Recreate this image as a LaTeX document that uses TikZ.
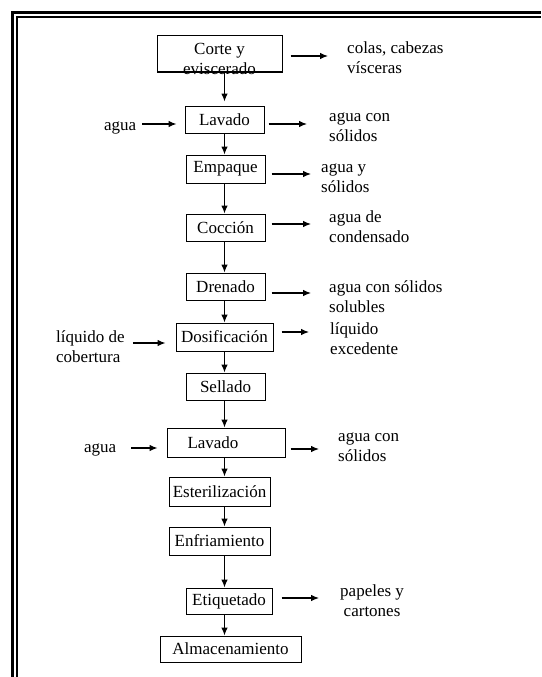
\documentclass[tikz,border=0pt]{standalone}
\usepackage{fontspec}
\setmainfont{Liberation Serif}
\usetikzlibrary{arrows.meta}
\newcommand{\diagfont}{\fontsize{17}{20}\selectfont}
\begin{document}
\begin{tikzpicture}[x=1pt,y=-1pt,
  box/.style={draw, line width=1pt, inner sep=0pt, font=\diagfont},
  side/.style={align=left, inner sep=0pt, font=\diagfont, anchor=west},
  arr/.style={line width=1.1pt, -{Latex[length=8pt,width=6.5pt]}},
  lbl/.style={font=\diagfont, inner sep=0pt, align=center},
]
\useasboundingbox (0,0) rectangle (541,677);
% frame
\draw[line width=3pt] (12.5,677) -- (12.5,12.5) -- (541,12.5);
\draw[line width=1.6pt] (17,677) -- (17,17) -- (541,17);
\coordinate (axis) at (224.5,0);
% boxes
\node[box, minimum width=125pt, minimum height=36pt,
  label={[lbl, yshift=-5pt]center:Corte y\\eviscerado}] (corte) at (219.5,54) {};
\node[box, minimum width=79pt, minimum height=27pt] (lav1) at (224.5,119.5) {Lavado};
\node[box, minimum width=79pt, minimum height=28pt] (emp) at (225.5,169) {Empaque};
\node[box, minimum width=79pt, minimum height=27pt] (coc) at (225.5,227.5) {Cocción};
\node[box, minimum width=79pt, minimum height=27pt] (dren) at (225.5,286.5) {Drenado};
\node[box, minimum width=97pt, minimum height=28pt] (dosif) at (224.5,337) {Dosificación};
\node[box, minimum width=79pt, minimum height=27pt] (sell) at (225.5,386.5) {Sellado};
\node[box, minimum width=118pt, minimum height=29pt,
  label={[lbl, xshift=-13pt]center:Lavado}] (lav2) at (226,442.5) {};
\node[box, minimum width=101pt, minimum height=29pt] (est) at (219.5,491.5) {Esterilización};
\node[box, minimum width=101pt, minimum height=28pt] (enf) at (219.5,541) {Enfriamiento};
\node[box, minimum width=86pt, minimum height=26pt] (eti) at (229,601) {Etiquetado};
\node[box, minimum width=141pt, minimum height=26pt] (alm) at (230.5,649) {Almacenamiento};
% side texts
\node[side] (o1) at (347,57.5) {colas, cabezas\\vísceras};
\node[side] (o2) at (329,127) {agua con\\sólidos};
\node[side] (o3) at (321,178) {agua y\\sólidos};
\node[side] (o4) at (329,227) {agua de\\condensado};
\node[side] (o5) at (329,297) {agua con sólidos\\solubles};
\node[side] (o6) at (330,339) {líquido\\excedente};
\node[side] (o7) at (338,447) {agua con\\sólidos};
\node[side, align=center] (o8) at (340,601) {papeles y\\cartones};
\node[side] (i1) at (104,128) {agua};
\node[side] (i2) at (56,347) {líquido de\\cobertura};
\node[side] (i3) at (84,450) {agua};
% vertical flow
\draw[arr] (corte.south -| axis) -- ([yshift=4pt]lav1.north -| axis);
\draw[arr] (lav1.south -| axis) -- (emp.north -| axis);
\draw[arr] (emp.south -| axis) -- (coc.north -| axis);
\draw[arr] (coc.south -| axis) -- (dren.north -| axis);
\draw[arr] (dren.south -| axis) -- (dosif.north -| axis);
\draw[arr] (dosif.south -| axis) -- (sell.north -| axis);
\draw[arr] (sell.south -| axis) -- (lav2.north -| axis);
\draw[arr] (lav2.south -| axis) -- (est.north -| axis);
\draw[arr] (est.south -| axis) -- (enf.north -| axis);
\draw[arr] (enf.south -| axis) -- (eti.north -| axis);
\draw[arr] (eti.south -| axis) -- (alm.north -| axis);
% outputs
\draw[arr] ([xshift=8pt,yshift=1.5pt]corte.east |- o1.west) -- ([xshift=-19pt,yshift=1.5pt]o1.west);
\draw[arr] ([xshift=4pt,yshift=3pt]lav1.east |- o2.west) -- ([xshift=-22pt,yshift=3pt]o2.west);
\draw[arr] ([xshift=6pt,yshift=4pt]emp.east |- o3.west) -- ([xshift=-10pt,yshift=4pt]o3.west);
\draw[arr] ([xshift=6pt,yshift=3pt]coc.east |- o4.west) -- ([xshift=-18pt,yshift=3pt]o4.west);
\draw[arr] ([xshift=6pt,yshift=4pt]dren.east |- o5.west) -- ([xshift=-18pt,yshift=4pt]o5.west);
\draw[arr] ([xshift=8pt,yshift=7pt]dosif.east |- o6.west) -- ([xshift=-21pt,yshift=7pt]o6.west);
\draw[arr] ([xshift=5pt,yshift=-2pt]lav2.east |- o7.west) -- ([xshift=-19pt,yshift=-2pt]o7.west);
\draw[arr] ([xshift=9pt,yshift=3pt]eti.east |- o8.west) -- ([xshift=-21pt,yshift=3pt]o8.west);
% inputs
\draw[arr] ([xshift=6pt,yshift=4pt]i1.east) -- ([xshift=-8pt,yshift=4pt]lav1.west |- i1.east);
\draw[arr] ([xshift=8pt,yshift=4pt]i2.east) -- ([xshift=-10pt,yshift=4pt]dosif.west |- i2.east);
\draw[arr] ([xshift=15pt,yshift=2pt]i3.east) -- ([xshift=-9pt,yshift=2pt]lav2.west |- i3.east);
\end{tikzpicture}
\end{document}
